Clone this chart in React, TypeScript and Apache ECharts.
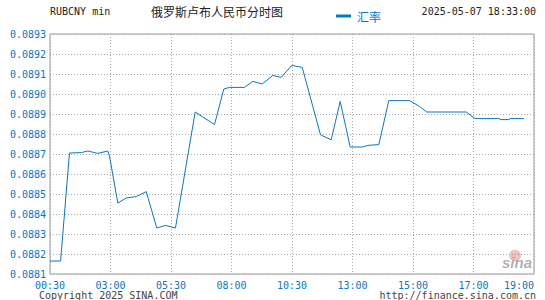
import React, { useEffect, useRef } from "react";
import * as echarts from "echarts";

const X_LABELS = ["00:30", "03:00", "05:30", "08:00", "10:30", "13:00", "15:00", "17:00", "19:00"];
const Y_MIN = 0.0881;
const Y_MAX = 0.0893;
const Y_STEP = 0.0001;

// position along the x axis, in label slots (0 = 00:30, 8 = 19:00)
const POS = [
  0, 0.175, 0.322, 0.516, 0.625, 0.79, 0.955, 0.983, 1.121, 1.26, 1.425, 1.59,
  1.765, 1.909, 2.074, 2.4, 2.719, 2.873, 2.967, 3.215, 3.352, 3.507, 3.683, 3.821,
  3.997, 4.169, 4.471, 4.648, 4.797, 4.962, 5.16, 5.253, 5.435, 5.6, 5.94, 6.107,
  6.228, 6.879, 7.028, 7.43, 7.438, 7.595, 7.603, 7.831,
];
const RATE = [
  0.088165, 0.088165, 0.088705, 0.088707, 0.088715, 0.088703, 0.088715, 0.08869,
  0.088455, 0.08848, 0.088487, 0.088512, 0.08833, 0.088343, 0.08833, 0.08891,
  0.088847, 0.089025, 0.089033, 0.089033, 0.089063, 0.08905, 0.089093, 0.089083,
  0.089143, 0.089133, 0.088796, 0.088771, 0.088963, 0.088735, 0.088735, 0.088743,
  0.088747, 0.088967, 0.088967, 0.088938, 0.08891, 0.08891, 0.088877, 0.088877,
  0.088872, 0.088872, 0.088877, 0.088877,
];

const BLUE = "#0a76c6";
const MONO = "'DejaVu Sans Mono', 'Liberation Mono', monospace";
const CJK = "'Noto Sans CJK SC', sans-serif";

export default function App() {
  const ref = useRef<HTMLDivElement>(null);
  useEffect(() => {
    if (!ref.current) return;
    const chart = echarts.init(ref.current, null, { renderer: "svg" });
    const data = POS.map((p, i) => [p, RATE[i]]);
    chart.setOption({
      animation: false,
      backgroundColor: "#fff",
      grid: {
        left: 50,
        right: 11,
        top: 34,
        bottom: 26,
        show: true,
        borderColor: "#999",
        borderWidth: 1,
        backgroundColor: "transparent",
      },
      legend: {
        data: ["汇率"],
        left: 331,
        top: 5,
        icon: "rect",
        itemWidth: 15,
        itemHeight: 3,
        itemGap: 6,
        textStyle: { color: BLUE, fontSize: 12, fontFamily: CJK, padding: [0, 0, 0, 1] },
      },
      xAxis: {
        type: "value",
        min: 0,
        max: 8,
        interval: 1,
        axisLine: { show: false },
        axisTick: { show: false },
        splitLine: { show: true, lineStyle: { color: "#aaa", type: [1, 2], width: 1 } },
        axisLabel: {
          color: BLUE,
          fontSize: 10,
          fontFamily: MONO,
          margin: 6,
          alignMaxLabel: "right",
          formatter: (v: number) => X_LABELS[Math.round(v)] ?? "",
        },
      },
      yAxis: {
        type: "value",
        min: Y_MIN,
        max: Y_MAX,
        interval: Y_STEP,
        axisLine: { show: false },
        axisTick: { show: false },
        splitLine: { show: true, lineStyle: { color: "#aaa", type: [1, 2], width: 1 } },
        axisLabel: {
          color: BLUE,
          fontSize: 10,
          fontFamily: MONO,
          margin: 4,
          formatter: (v: number) => v.toFixed(4),
        },
      },
      series: [
        {
          name: "汇率",
          type: "line",
          data,
          showSymbol: false,
          symbol: "none",
          lineStyle: { color: BLUE, width: 1 },
          itemStyle: { color: BLUE },
        },
      ],
      graphic: [
        {
          type: "text",
          left: 50,
          top: 6,
          style: { text: "RUBCNY min", fill: "#222", font: `10px ${MONO}` },
        },
        {
          type: "text",
          left: 151,
          top: 5,
          style: { text: "俄罗斯卢布人民币分时图", fill: "#222", font: `12px ${CJK}` },
        },
        {
          type: "text",
          right: 9,
          top: 6,
          style: { text: "2025-05-07 18:33:00", fill: "#222", font: `10px ${MONO}` },
        },
        {
          type: "text",
          left: 39,
          top: 290,
          style: { text: "Copyright 2025 SINA.COM", fill: "#444", font: `10px ${MONO}` },
        },
        {
          type: "text",
          right: 9,
          top: 290,
          style: { text: "http://finance.sina.com.cn", fill: "#444", font: `10px ${MONO}` },
        },
        {
          type: "circle",
          shape: { cx: 515, cy: 255.5, r: 5.5 },
          style: { fill: "rgba(235,110,110,0.45)", stroke: "rgba(200,200,200,0.7)", lineWidth: 1 },
          z: 10,
        },
        {
          type: "text",
          left: 502,
          top: 255,
          style: {
            text: "sina",
            fill: "rgba(150,150,150,0.75)",
            font: "italic bold 15px 'Liberation Sans', Arial, sans-serif",
          },
          z: 10,
        },
      ],
    });
    return () => chart.dispose();
  }, []);
  return <div ref={ref} style={{ width: 545, height: 300, position: "absolute", left: 0, top: 0 }} />;
}
